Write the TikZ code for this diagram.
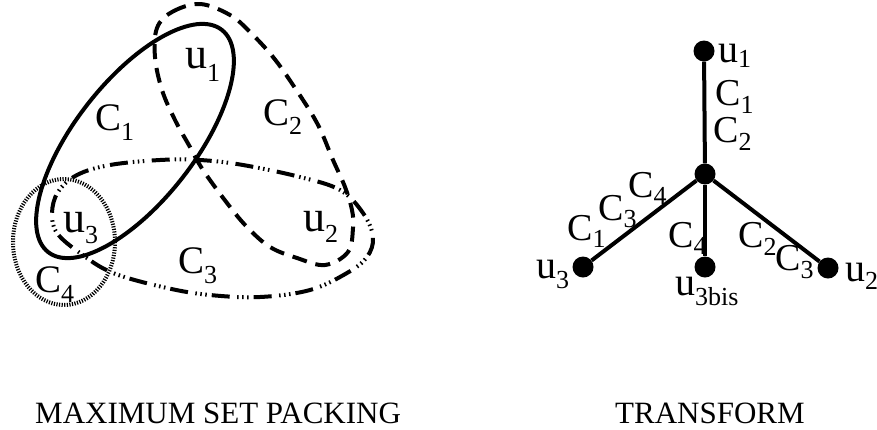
\documentclass[tikz,border=0pt]{standalone}
\usepackage{fontspec}
\setmainfont{Liberation Serif}
\newcommand\lbl[4]{{\fontsize{#2}{#2}\selectfont #1\raisebox{-#4pt}{\fontsize{26}{26}\selectfont #3}}}
\begin{document}
\begin{tikzpicture}[x=1pt,y=-1pt,
  setline/.style={line width=4pt},
  cone/.style={setline},
  ctwo/.style={setline,dash pattern=on 15pt off 9pt},
  cthree/.style={setline,dash pattern=on 18pt off 5pt on 1.5pt off 3.5pt on 1.5pt off 3.5pt on 1.5pt off 7.5pt},
  cfour/.style={setline,dash pattern=on 1.2pt off 1.4pt},
  lab/.style={anchor=base west,inner sep=0pt},
  dot/.style={circle,fill=black,inner sep=0pt,minimum size=21pt},
  edge/.style={line width=4pt},
  title/.style={anchor=base west,inner sep=0pt,font=\fontsize{31}{31}\selectfont}]
\useasboundingbox (0,0) rectangle (877,429);
% ---- left: set packing instance ----
\draw[cone,rotate around={52:(135,141)}] (135,141) ellipse (141 and 60);
\draw[ctwo] plot[smooth cycle,tension=0.6] coordinates {(157,28) (172,12) (200,4) (230,15) (250,32) (273,57) (293,85) (317,123) (333,160) (345,187) (352,210) (353,228) (348,252) (325,265) (297,258) (270,247) (247,227) (227,203) (203,170) (190,147) (175,120) (162,90) (155,57)};
\draw[cthree] plot[smooth cycle,tension=0.6] coordinates {(77,175) (110,165) (160,160) (200,160) (243,165) (300,177) (340,190) (363,213) (373,237) (367,257) (347,273) (310,290) (260,297) (210,295) (167,288) (113,273) (80,253) (57,233) (52,213) (58,192)};
\draw[cfour] (64,242) ellipse (51 and 63);
\node[lab] (lu1) at (185,68) {\lbl{u}{44}{1}{13}};
\node[lab] (lc1) at (95,130) {\lbl{C}{39}{1}{10}};
\node[lab] (lc2) at (263,125) {\lbl{C}{39}{2}{9}};
\node[lab] (lu3) at (63,232) {\lbl{u}{44}{3}{11}};
\node[lab] (lu2) at (303,231) {\lbl{u}{44}{2}{11}};
\node[lab] (lc3) at (178,273) {\lbl{C}{39}{3}{10}};
\node[lab] (lc4) at (35,292) {\lbl{C}{39}{4}{10}};
% ---- right: transformed tree ----
\node[dot] (c) at (705,174) {};
\node[dot] (v1) at (704,51) {};
\node[dot] (v3) at (583,267) {};
\node[dot] (v3b) at (705,267) {};
\node[dot] (v2) at (828,268) {};
\draw[edge] (c) -- (v1);
\draw[edge] (c) -- (v3);
\draw[edge] (c) -- (v3b);
\draw[edge] (c) -- (v2);
\node[lab] (ru1) at (718,62) {\lbl{u}{40}{1}{5}};
\node[lab] (rc1a) at (715,105) {\lbl{C}{38}{1}{8}};
\node[lab] (rc2a) at (713,142) {\lbl{C}{38}{2}{8}};
\node[lab] (rc4a) at (628,197) {\lbl{C}{38}{4}{7}};
\node[lab] (rc3a) at (598,220) {\lbl{C}{38}{3}{7}};
\node[lab] (rc1b) at (567,240) {\lbl{C}{38}{1}{7}};
\node[lab] (rc4b) at (668,247) {\lbl{C}{38}{4}{7}};
\node[lab] (rc2b) at (738,247) {\lbl{C}{38}{2}{8}};
\node[lab] (rc3b) at (775,270) {\lbl{C}{38}{3}{8}};
\node[lab] (ru3) at (536,278) {\lbl{u}{40}{3}{10}};
\node[lab] (ru3b) at (675,295) {\lbl{u}{40}{3bis}{10}};
\node[lab] (ru2) at (845,281) {\lbl{u}{40}{2}{8}};
% ---- captions ----
\node[title] (t1) at (35,423) {MAXIMUM SET PACKING};
\node[title] (t2) at (615,423) {TRANSFORM};
\end{tikzpicture}
\end{document}
